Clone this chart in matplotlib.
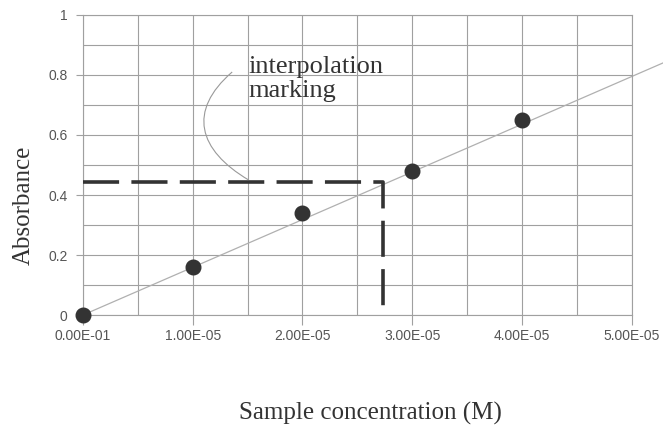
import numpy as np
import matplotlib
matplotlib.use('Agg')
from matplotlib import pyplot as plt
from matplotlib.path import Path
from matplotlib.patches import PathPatch

# Data
conc = [0.0, 1e-5, 2e-5, 3e-5, 4e-5]
absorb = [0.0, 0.16, 0.34, 0.48, 0.65]
x_ticks = [0.0, 1e-5, 2e-5, 3e-5, 4e-5, 5e-5]
x_labels = ['0.00E-01', '1.00E-05', '2.00E-05', '3.00E-05', '4.00E-05', '5.00E-05']
y_ticks = [0, 0.2, 0.4, 0.6, 0.8, 1]
y_labels = ['0', '0.2', '0.4', '0.6', '0.8', '1']
slope = 0.159 / 1e-5      # fitted line
interp_x = 2.73e-5        # interpolation marking
interp_y = 0.443

fig = plt.figure(figsize=(6.63, 4.40), dpi=100)
ax = fig.add_axes([0.125, 0.284, 0.828, 0.682])

ax.set_xlim(0, 5e-5)
ax.set_ylim(0, 1)

# grid (major + minor)
ax.set_xticks(x_ticks)
ax.set_xticklabels(x_labels)
ax.set_xticks(np.arange(0, 5.01e-5, 0.5e-5), minor=True)
ax.set_yticks(y_ticks)
ax.set_yticklabels(y_labels)
ax.set_yticks(np.arange(0, 1.01, 0.1), minor=True)
ax.grid(True, which='both', color='#a0a0a0', linewidth=0.8)
ax.set_axisbelow(True)
for s in ax.spines.values():
    s.set_color('#a0a0a0')
    s.set_linewidth(0.8)
ax.tick_params(which='major', color='#a0a0a0', labelsize=10,
               labelcolor='#555555')
ax.tick_params(axis='y', which='major', length=5, pad=6)
ax.tick_params(axis='x', which='major', length=7, pad=3)
ax.tick_params(which='minor', length=0)
for lab in ax.get_xticklabels() + ax.get_yticklabels():
    lab.set_family('Liberation Sans')

# trend line running past the plot edge
xl = np.array([0, 5.3e-5])
ax.plot(xl, slope * xl, color='#b0b0b0', linewidth=0.9, clip_on=False, zorder=2)

# data points
ax.plot(conc, absorb, 'o', color='#333333', markersize=10.5, clip_on=False, zorder=4)

# interpolation dashed marking
ax.plot([0.0, interp_x, interp_x], [interp_y, interp_y, 0.02],
        color='#333333', linewidth=2.6, dashes=(10, 3.4), zorder=3)

# annotation text + leader curve (baseline = last line)
ax.text(1.51e-5, 0.727, 'interpolation\nmarking', family='Liberation Serif',
        fontsize=19, color='#333333', va='baseline', ha='left', linespacing=1.12)
verts = [(1.36e-5, 0.81), (0.95e-5, 0.68), (1.05e-5, 0.55), (1.51e-5, 0.45)]
codes = [Path.MOVETO, Path.CURVE4, Path.CURVE4, Path.CURVE4]
ax.add_patch(PathPatch(Path(verts, codes), facecolor='none',
                       edgecolor='#999999', linewidth=0.8, zorder=3))

fig.text(24 / 663, 1 - 205 / 440, 'Absorbance', family='Liberation Serif',
         fontsize=18, color='#333333', rotation=90, ha='center', va='center')
fig.text(370 / 663, 1 - 420 / 440, 'Sample concentration (M)', family='Liberation Serif',
         fontsize=18, color='#333333', ha='center', va='baseline')

fig.savefig('out.png', dpi=100)
